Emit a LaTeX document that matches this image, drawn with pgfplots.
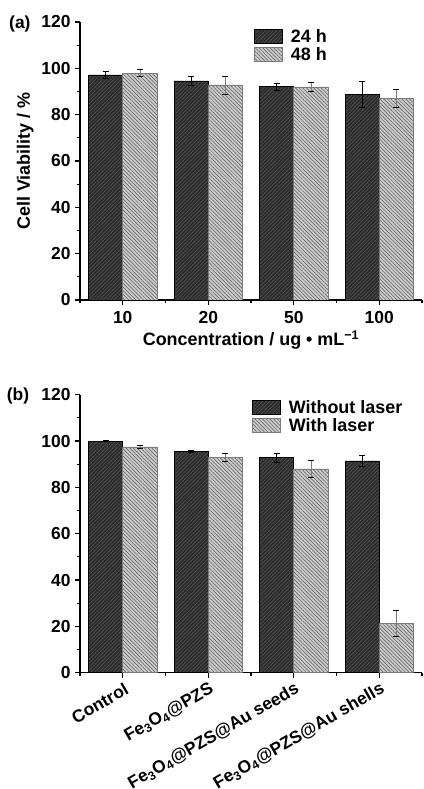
\documentclass[border=0pt]{standalone}
\usepackage{pgfplots}
\pgfplotsset{compat=1.18}
\usetikzlibrary{patterns.meta}
\usepackage{fontspec}
\setmainfont{Liberation Sans}
\definecolor{darkbar}{HTML}{2C2C2C}
\definecolor{darkhatch}{HTML}{585858}
\definecolor{lightbar}{HTML}{CCCCCC}
\definecolor{lighthatch}{HTML}{555555}
\definecolor{lightedge}{HTML}{7A7A7A}
\pgfplotsset{
  darkstyle/.style={fill=darkbar, draw=black, line width=0.6bp,
    postaction={pattern={Lines[angle=45,distance=2.6bp,line width=0.5bp]}, pattern color=darkhatch}},
  lightstyle/.style={fill=lightbar, draw=lightedge, line width=0.6bp,
    postaction={pattern={Lines[angle=-45,distance=2.6bp,line width=0.5bp]}, pattern color=lighthatch}},
  myaxis/.style={
    scale only axis, width=342bp, height=278bp,
    anchor=south west,
    xmin=-0.5, xmax=3.5, ymin=0, ymax=120,
    axis lines=left, axis line style={-, line width=1.3bp},
    ybar=0pt, bar width=0.4,
    xtick={0,1,2,3}, minor xtick={-0.5,0.5,1.5,2.5,3.5},
    ytick={0,20,...,120}, minor ytick={10,30,...,110},
    tick align=outside, major tick length=5bp, minor tick length=3bp,
    every tick/.style={black, line width=1.2bp},
    /pgf/number format/assume math mode=true,
    tick label style={font=\fontsize{17.5}{20}\selectfont\bfseries},
    yticklabel style={xshift=-1bp},
    label style={font=\fontsize{18}{21}\selectfont\bfseries},
    ylabel style={at={(axis description cs:-0.16,0.5)}, anchor=center},
    legend style={font=\fontsize{18}{21}\selectfont\bfseries, draw=none, fill=none,
      anchor=north west, inner sep=0pt, row sep=3.5bp, nodes={inner sep=0pt},
      /tikz/every odd column/.append style={column sep=8bp}},
    legend cell align=left,
    legend image code/.code={\draw[##1] (0bp,-7bp) rectangle (28bp,7bp);},
    error bars/y dir=both, error bars/y explicit,
    error bars/error bar style={line width=0.6bp},
    error bars/error mark options={rotate=90, mark size=3bp, line width=0.6bp},
  }
}
\begin{document}
\begin{tikzpicture}[x=1bp,y=1bp]
\useasboundingbox (0,0) rectangle (423,789);
% ---------- (a) ----------
\begin{axis}[myaxis, at={(80bp,489bp)},
  xticklabels={10,20,50,100},
  xticklabel style={anchor=base, yshift=-19bp},
  xlabel={Concentration / ug • mL\textsuperscript{−1}},
  xlabel style={at={(axis description cs:0.5,0)}, anchor=base, yshift=-45.5bp},
  ylabel={Cell Viability / \%},
  legend style={at={(rel axis cs:0.509,0.975)}},
]
\addplot[darkstyle] coordinates {(0,97.2) +- (0,1.5) (1,94.6) +- (0,2.0) (2,92.2) +- (0,1.5) (3,88.7) +- (0,5.5)};
\addplot[lightstyle] coordinates {(0,97.9) +- (0,1.5) (1,92.8) +- (0,3.9) (2,92.0) +- (0,2.0) (3,87.0) +- (0,3.9)};
\legend{24 h, 48 h}
\end{axis}
% ---------- (b) ----------
\begin{axis}[myaxis, at={(80bp,116.3bp)},
  xticklabels={Control, Fe\textsubscript{3}O\textsubscript{4}@PZS, Fe\textsubscript{3}O\textsubscript{4}@PZS@Au seeds, Fe\textsubscript{3}O\textsubscript{4}@PZS@Au shells},
  xticklabel style={xshift=4bp, yshift=-10bp, rotate=30, anchor=east, inner sep=0pt, font=\fontsize{17.5}{20}\selectfont\bfseries},
  legend style={at={(rel axis cs:0.503,0.981)}},
]
\addplot[darkstyle] coordinates {(0,100.0) +- (0,0.3) (1,95.5) +- (0,0.5) (2,92.9) +- (0,2.0) (3,91.4) +- (0,2.5)};
\addplot[lightstyle] coordinates {(0,97.5) +- (0,0.5) (1,93.1) +- (0,1.8) (2,88.0) +- (0,3.7) (3,21.4) +- (0,5.6)};
\legend{Without laser, With laser}
\end{axis}
\node[anchor=base west, inner sep=0pt, font=\fontsize{17.5}{20}\selectfont\bfseries] at (9,760.7) {(a)};
\node[anchor=base west, inner sep=0pt, font=\fontsize{17.5}{20}\selectfont\bfseries] at (6.7,388.3) {(b)};
\end{tikzpicture}
\end{document}
